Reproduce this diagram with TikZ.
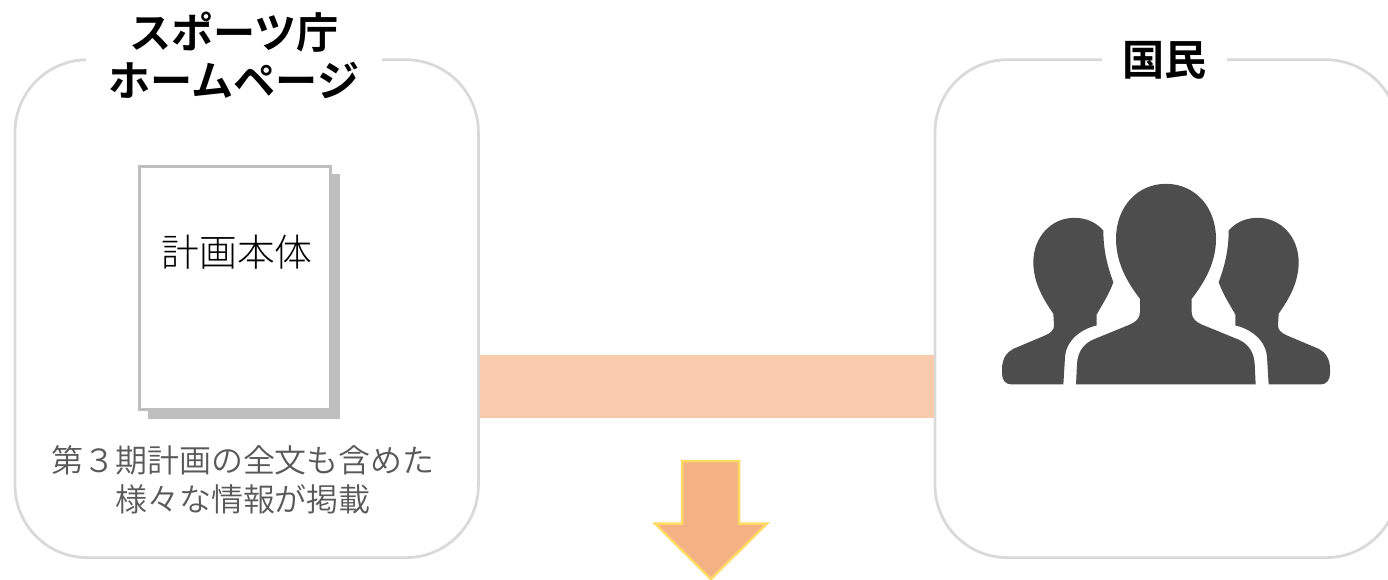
\documentclass[tikz,border=0pt]{standalone}
\usepackage{fontspec}
\setmainfont{Noto Sans CJK JP}
\newfontfamily\lightjp{Noto Sans CJK JP DemiLight}
\newfontfamily\thinjp{Noto Sans CJK JP Light}
\newfontfamily\boldjp{Noto Sans CJK JP Bold}
\definecolor{boxgray}{HTML}{D9D9D9}
\definecolor{docgray}{HTML}{BFBFBF}
\definecolor{bandcol}{HTML}{F7CBAC}
\definecolor{arrowcol}{HTML}{F4B183}
\definecolor{arrowline}{HTML}{FFD966}
\definecolor{captioncol}{HTML}{595959}
\definecolor{personcol}{HTML}{4D4D4D}
\tikzset{
  groupbox/.style={draw=boxgray,line width=0.055cm,rounded corners=1.45cm,inner sep=0pt},
  titlelabel/.style={fill=white,font=\fontsize{24}{26}\selectfont\boldjp,align=center,inner sep=0pt},
  docsheet/.style={draw=docgray,fill=white,line width=0.06cm,inner sep=0pt,minimum width=3.84cm,minimum height=4.88cm},
  captionlabel/.style={text=captioncol,font=\fontsize{18.2}{22.1}\selectfont\lightjp,align=center,inner sep=0pt},
  personfill/.style={fill=personcol},
}
\begin{document}
\begin{tikzpicture}[x=0.02cm,y=-0.02cm]
\useasboundingbox (0,0) rectangle (1388,580);
% boxes
\node[groupbox,minimum width=9.27cm,minimum height=9.96cm] (hpbox) at (246.7,308.7) {};
\node[groupbox,minimum width=9.27cm,minimum height=9.96cm] (peoplebox) at (1166.7,308.7) {};
\node[titlelabel,minimum width=5.92cm,minimum height=1.2cm] (hptitle) at (234,55) {スポーツ庁\\[0.05cm]ホームページ};
\node[titlelabel,minimum width=2.5cm,minimum height=1cm] (peopletitle) at (1164.5,60.5) {国民};
% band between the boxes
\coordinate (bandleft) at (hpbox.east |- 0,386.7);
\coordinate (bandright) at (peoplebox.west |- 0,386.7);
\draw[bandcol,line width=1.27cm] (bandleft) -- (bandright);
% document
\fill[docgray] (148,174) rectangle (340,419);
\node[docsheet] (plandoc) at (235,288) {};
\node[font=\fontsize{21.5}{25}\selectfont\thinjp,inner sep=0pt] (plantext) at (237,252.5) {計画本体};
\node[captionlabel] (hpcaption) at (243,480) {第３期計画の全文も含めた\\様々な情報が掲載};
% arrow
\filldraw[fill=arrowcol,draw=arrowline,line width=0.05cm] (682,461) -- (739,461) -- (739,523.5) -- (767,523.5) -- (711,579) -- (655,523.5) -- (682,523.5) -- cycle;
% people
\begin{scope}[shift={(1166,160.5)},x=0.02cm/3,y=-0.02cm/3]
\foreach \s in {1,-1} {
  \fill[personfill,xscale=\s] (-275,172) .. controls (-240,172) and (-210,185) .. (-188,210)
    .. controls (-188,270) and (-175,320) .. (-158,365) .. controls (-170,400) and (-190,430) .. (-208,462)
    -- (-208,495) .. controls (-255,505) and (-300,540) .. (-303,590) -- (-308,672) -- (-463,672)
    .. controls (-480,672) and (-492,660) .. (-492,640) -- (-492,625) .. controls (-492,595) and (-478,575) .. (-458,565)
    -- (-363,525) .. controls (-345,517) and (-336,508) .. (-336,495) -- (-338,460)
    .. controls (-365,420) and (-398,370) .. (-398,305) .. controls (-398,230) and (-345,172) .. (-275,172) -- cycle;
}
\fill[personfill] (0,70) .. controls (-87,70) and (-150,140) .. (-150,235) .. controls (-150,310) and (-113,370) .. (-78,415)
  -- (-78,455) .. controls (-78,475) and (-93,485) .. (-108,492) -- (-218,537) .. controls (-248,550) and (-265,575) .. (-267,610)
  -- (-270,672) -- (269,672) -- (266,610) .. controls (264,575) and (247,550) .. (217,537) -- (107,492)
  .. controls (92,485) and (77,475) .. (77,455) -- (77,415) .. controls (112,370) and (150,310) .. (150,235)
  .. controls (150,140) and (87,70) .. (0,70) -- cycle;
\end{scope}
\end{tikzpicture}
\end{document}
